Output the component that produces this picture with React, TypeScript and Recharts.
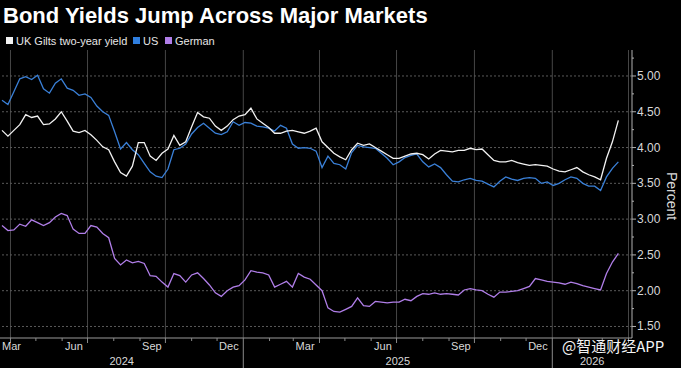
import React from "react";
import { LineChart, Line, XAxis, YAxis, ReferenceLine } from "recharts";

const DAY = 86400000;
const FIRST_WEEK = Date.UTC(2024, 2, 22);
const X_START = Date.UTC(2024, 2, 19, 15);
const X_END = Date.UTC(2026, 3, 5, 3);
const Y_MIN = 1.339;
const Y_MAX = 5.363;

// weekly readings, Mar 2024 -> Mar 2026
const ukGilts = [
  4.24, 4.16, 4.24, 4.32, 4.46, 4.42, 4.44, 4.32, 4.33, 4.40,
  4.50, 4.37, 4.23, 4.21, 4.24, 4.18, 4.10, 4.01, 3.97, 3.80,
  3.65, 3.60, 3.74, 4.07, 4.07, 3.88, 3.82, 3.92, 3.98, 4.17,
  4.03, 4.08, 4.29, 4.49, 4.43, 4.41, 4.30, 4.24, 4.30, 4.39,
  4.44, 4.46, 4.55, 4.40, 4.34, 4.28, 4.20, 4.20, 4.23, 4.24,
  4.22, 4.20, 4.23, 4.27, 4.08, 4.00, 3.92, 3.87, 3.83, 3.97,
  4.06, 4.03, 4.05, 4.00, 3.95, 3.90, 3.85, 3.85, 3.88, 3.91,
  3.92, 3.90, 3.84, 3.91, 3.96, 3.95, 3.94, 3.96, 3.96, 3.99,
  3.97, 3.98, 3.90, 3.82, 3.80, 3.80, 3.82, 3.79, 3.77, 3.75,
  3.76, 3.75, 3.74, 3.70, 3.67, 3.66, 3.69, 3.72, 3.66, 3.62,
  3.59, 3.55, 3.85, 4.08, 4.38,
];

const us = [
  4.66, 4.60, 4.78, 4.96, 4.99, 4.95, 5.01, 4.82, 4.76, 4.90,
  4.96, 4.83, 4.80, 4.73, 4.75, 4.70, 4.58, 4.50, 4.45, 4.22,
  3.98, 4.07, 3.97, 3.90, 3.78, 3.66, 3.60, 3.58, 3.70, 3.97,
  3.99, 4.05, 4.19, 4.28, 4.34, 4.27, 4.20, 4.18, 4.22, 4.36,
  4.31, 4.35, 4.34, 4.30, 4.29, 4.27, 4.23, 4.31, 4.27, 4.05,
  3.99, 4.00, 3.99, 3.95, 3.72, 3.88, 3.78, 3.76, 3.70, 3.93,
  4.03, 4.01, 4.00, 3.99, 3.92, 3.85, 3.76, 3.80, 3.86, 3.89,
  3.91, 3.80, 3.73, 3.77, 3.72, 3.62, 3.53, 3.52, 3.55, 3.57,
  3.54, 3.53, 3.49, 3.45, 3.53, 3.59, 3.56, 3.54, 3.57, 3.58,
  3.57, 3.50, 3.52, 3.47, 3.50, 3.55, 3.59, 3.57, 3.50, 3.46,
  3.46, 3.40, 3.59, 3.71, 3.80,
];

const german = [
  2.91, 2.84, 2.85, 2.93, 2.90, 2.99, 2.95, 2.91, 2.95, 3.03,
  3.08, 3.05, 2.86, 2.80, 2.80, 2.91, 2.89, 2.80, 2.74, 2.45,
  2.36, 2.43, 2.39, 2.41, 2.38, 2.21, 2.20, 2.12, 2.05, 2.24,
  2.21, 2.12, 2.22, 2.25, 2.17, 2.08, 1.97, 1.92, 2.00, 2.05,
  2.07, 2.15, 2.28, 2.26, 2.25, 2.22, 2.05, 2.09, 2.13, 2.05,
  2.24, 2.19, 2.16, 2.08, 2.00, 1.76, 1.71, 1.70, 1.74, 1.78,
  1.90, 1.79, 1.78, 1.85, 1.84, 1.83, 1.84, 1.84, 1.88, 1.86,
  1.92, 1.96, 1.95, 1.97, 1.95, 1.96, 1.95, 1.94, 2.01, 2.03,
  2.01, 2.00, 1.95, 1.91, 1.98, 1.98, 1.99, 2.00, 2.03, 2.06,
  2.17, 2.15, 2.13, 2.12, 2.11, 2.09, 2.12, 2.10, 2.07, 2.05,
  2.03, 2.01, 2.24, 2.40, 2.52,
];

const weeks = ukGilts.map((_, i) => FIRST_WEEK + i * 7 * DAY);
const data = weeks.map((t, i) => ({ t, uk: ukGilts[i], us: us[i], de: german[i] }));

const MONTHS = ["Jan", "Feb", "Mar", "Apr", "May", "Jun", "Jul", "Aug", "Sep", "Oct", "Nov", "Dec"];
const monthStarts = Array.from({ length: 25 }, (_, i) => Date.UTC(2024, 3 + i, 1));
const quarterStarts = monthStarts.filter(t => new Date(t).getUTCMonth() % 3 === 0);
const monthLabelTicks = [
  X_START,
  Date.UTC(2024, 5, 15), Date.UTC(2024, 8, 15), Date.UTC(2024, 11, 15),
  Date.UTC(2025, 2, 15), Date.UTC(2025, 5, 15), Date.UTC(2025, 8, 15), Date.UTC(2025, 11, 15),
];
const yearTicks = [
  (X_START + Date.UTC(2025, 0, 1)) / 2,
  (Date.UTC(2025, 0, 1) + Date.UTC(2026, 0, 1)) / 2,
  (Date.UTC(2026, 0, 1) + X_END) / 2,
];
const yGrid = [1.5, 2, 2.5, 3, 3.5, 4, 4.5, 5];
const yTicks = [1.5, 1.75, 2, 2.25, 2.5, 2.75, 3, 3.25, 3.5, 3.75, 4, 4.25, 4.5, 4.75, 5, 5.25];

const AXIS_FONT = "'Liberation Sans', Arial, sans-serif";
const TEXT = "#d8d8d8";

function MonthTick({ x, y, payload }: any) {
  const d = new Date(payload.value);
  if (d.getUTCDate() === 1) {
    const m = d.getUTCMonth();
    const len = m === 0 ? 30 : m % 3 === 0 ? 5 : 3;
    return <line x1={x} x2={x} y1={y} y2={y + len} stroke="#8a8a8a" strokeWidth={1} />;
  }
  const edge = payload.value <= X_START;
  return (
    <text x={edge ? x + 2 : x} y={y + 8} textAnchor={edge ? "start" : "middle"} dominantBaseline="central"
      fill={TEXT} fontSize={11} fontFamily={AXIS_FONT}>
      {MONTHS[d.getUTCMonth()]}
    </text>
  );
}

function YearTick({ x, y, payload }: any) {
  return (
    <text x={x} y={y + 7} textAnchor="middle" dominantBaseline="central" fill={TEXT} fontSize={11} fontFamily={AXIS_FONT}>
      {new Date(payload.value).getUTCFullYear()}
    </text>
  );
}

function YTick({ x, y, payload }: any) {
  const v = payload.value;
  const major = Math.abs(v * 2 - Math.round(v * 2)) < 1e-6;
  return (
    <g>
      <line x1={x} x2={x + (major ? 4 : 2)} y1={y} y2={y} stroke="#b0b0b0" />
      {major && (
        <text x={x + 5} y={y} dominantBaseline="central" fill={TEXT} fontSize={12} fontFamily={AXIS_FONT}>
          {v.toFixed(2)}
        </text>
      )}
    </g>
  );
}

function PercentLabel({ viewBox }: any) {
  if (!viewBox) return null;
  const cx = viewBox.x + 40;
  const cy = viewBox.y + viewBox.height / 2 + 2;
  return (
    <text x={cx} y={cy} transform={`rotate(90 ${cx} ${cy})`} textAnchor="middle" dominantBaseline="central"
      fill={TEXT} fontSize={14} fontFamily={AXIS_FONT}>
      Percent
    </text>
  );
}

const legend = [
  { label: "UK Gilts two-year yield", color: "#f2f2f2", x: 6 },
  { label: "US", color: "#2f7fe0", x: 133 },
  { label: "German", color: "#b07ee8", x: 165 },
];

export default function App() {
  return (
    <div style={{ position: "absolute", left: 0, top: 0, width: 681, height: 368, background: "#000", overflow: "hidden" }}>
      <LineChart width={681} height={368} data={data} margin={{ top: 50, right: 0, bottom: 0, left: 0 }}>
        <XAxis xAxisId="m" dataKey="t" type="number" scale="time" domain={[X_START, X_END]} allowDataOverflow
          ticks={[...monthStarts, ...monthLabelTicks]} interval={0} tick={<MonthTick />} tickLine={false}
          tickSize={0} tickMargin={0} axisLine={{ stroke: "#9a9a9a" }} height={16} />
        <XAxis xAxisId="y" dataKey="t" type="number" scale="time" domain={[X_START, X_END]} allowDataOverflow
          ticks={yearTicks} interval={0} tick={<YearTick />} tickLine={false} tickSize={0} tickMargin={0}
          axisLine={false} height={14} />
        <YAxis orientation="right" type="number" domain={[Y_MIN, Y_MAX]} allowDataOverflow ticks={yTicks}
          interval={0} tick={<YTick />} tickLine={false} tickSize={0} tickMargin={0}
          axisLine={{ stroke: "#b0b0b0" }} width={49} label={<PercentLabel />} />
        {quarterStarts.map(t => (
          <ReferenceLine key={t} xAxisId="m" x={t} stroke="#464646" strokeWidth={1} />
        ))}
        {yGrid.map(v => (
          <ReferenceLine key={v} xAxisId="m" y={v} stroke="#5a5a5a" strokeDasharray="2 2" />
        ))}
        <Line xAxisId="m" type="linear" dataKey="de" stroke="#b07ee8" strokeWidth={1.3} dot={false} isAnimationActive={false} />
        <Line xAxisId="m" type="linear" dataKey="us" stroke="#3a80d8" strokeWidth={1.3} dot={false} isAnimationActive={false} />
        <Line xAxisId="m" type="linear" dataKey="uk" stroke="#f2f2f2" strokeWidth={1.3} dot={false} isAnimationActive={false} />
      </LineChart>
      <svg width={681} height={368} style={{ position: "absolute", left: 0, top: 0, pointerEvents: "none" }}>
        <text x={3} y={23} fill="#fff" fontSize={22} fontWeight="bold" fontFamily={AXIS_FONT}>
          Bond Yields Jump Across Major Markets
        </text>
        {legend.map(l => (
          <g key={l.label}>
            <rect x={l.x} y={37} width={7} height={7} fill={l.color} />
            <text x={l.x + 10} y={45} fill="#e6e6e6" fontSize={11} fontFamily={AXIS_FONT}>{l.label}</text>
          </g>
        ))}
        <text x={562} y={352} fill="#f4f4f4" fontSize={15} fontFamily="'Noto Sans CJK SC', sans-serif">
          @智通财经APP
        </text>
      </svg>
    </div>
  );
}
